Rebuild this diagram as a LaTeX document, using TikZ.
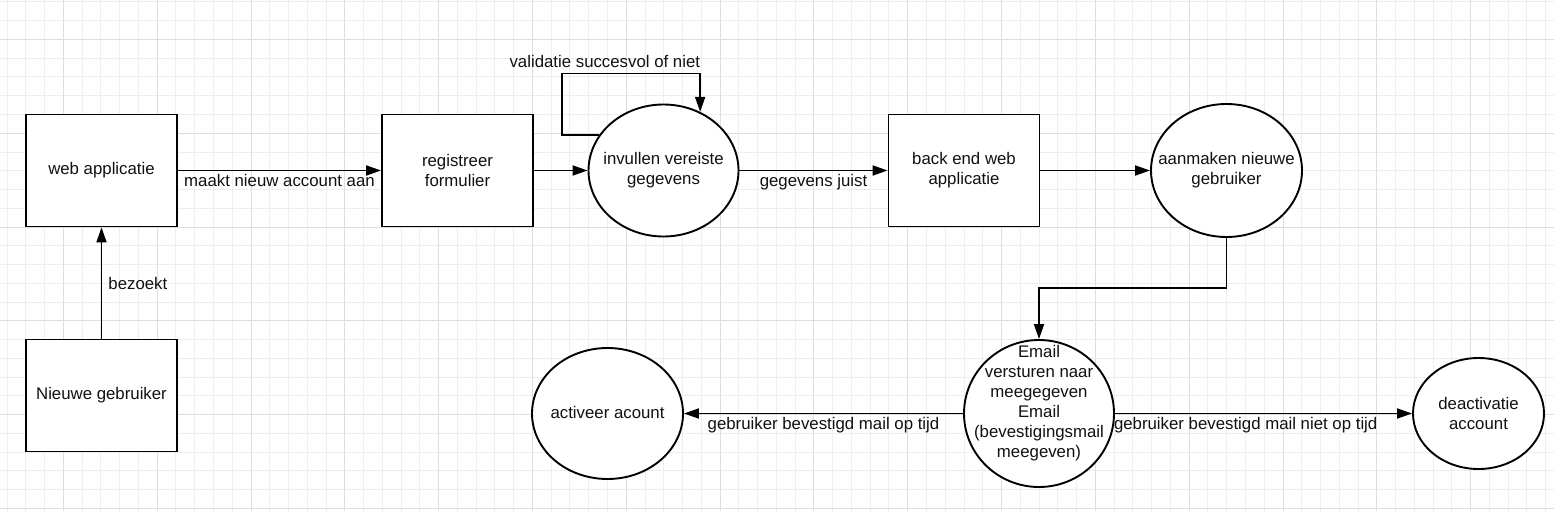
\documentclass[tikz,border=0pt]{standalone}
\usepackage{fontspec}
\setmainfont{Liberation Sans}
\usetikzlibrary{arrows.meta,shapes.geometric,calc}
\definecolor{minorg}{HTML}{EEEEEE}
\definecolor{majorg}{HTML}{DEDEDE}
\definecolor{ink}{HTML}{111111}
\begin{document}
\begin{tikzpicture}[x=1pt,y=-1pt,
  every node/.style={font=\fontsize{16.8}{20}\selectfont, text=ink},
  every label/.style={align=center, inner sep=0pt},
  boxnode/.style={draw=black, fill=white, line width=1.9pt, minimum width=151pt, minimum height=112pt, inner sep=0pt, align=center},
  ellnode/.style={ellipse, draw=black, fill=white, line width=1.9pt, inner sep=0pt},
  conn/.style={draw=black, line width=1.9pt, -{Triangle[length=15pt,width=10pt]}},
  lbl/.style={inner sep=2pt, fill=none}]
\useasboundingbox (0,0) rectangle (1554,511);
\fill[white] (0,0) rectangle (1554,511);
% grid
\foreach \i in {0,...,82}{\draw[minorg, line width=0.8pt] ({7+18.763*\i},0) -- ({7+18.763*\i},511);}
\foreach \j in {0,...,27}{\draw[minorg, line width=0.8pt] (0,{1.8+18.763*\j}) -- (1554,{1.8+18.763*\j});}
\foreach \i in {0,...,15}{\draw[majorg, line width=0.8pt] ({63.3+93.815*\i},0) -- ({63.3+93.815*\i},511);}
\foreach \j in {0,...,5}{\draw[majorg, line width=0.8pt] (0,{39.3+93.815*\j}) -- (1554,{39.3+93.815*\j});}
% nodes
\node[boxnode] (web) at (101.5,170.5) {web applicatie};
\node[boxnode] (nieuw) at (101.5,395.5) {Nieuwe gebruiker};
\node[boxnode] (reg) at (457.5,170.5) {registreer\\formulier};
\node[ellnode, minimum width=150pt, minimum height=132pt, label={center:{invullen vereiste\\gegevens}}] (inv) at (663.5,170.5) {};
\node[boxnode] (back) at (964,170.5) {back end web\\applicatie};
\node[ellnode, minimum width=151pt, minimum height=133pt, label={center:{aanmaken nieuwe\\gebruiker}}] (aan) at (1226.5,170.5) {};
\node[ellnode, minimum width=150pt, minimum height=147pt, label={[yshift=10pt]center:{Email\\versturen naar\\meegegeven\\Email\\(bevestigingsmail\\meegeven)}}] (mail) at (1039,413.5) {};
\node[ellnode, minimum width=151pt, minimum height=131pt, label={[yshift=1.5pt]center:{activeer acount}}] (act) at (607.5,413.5) {};
\node[ellnode, minimum width=131pt, minimum height=111pt, label={center:{deactivatie\\account}}] (deact) at (1478.5,413.5) {};
% connectors
\draw[conn] (nieuw) -- node[right, lbl, xshift=4pt]{bezoekt} (web);
\draw[conn] (web) -- node[below, lbl, yshift=-1pt]{maakt nieuw account aan} (reg);
\draw[conn] (reg) -- (inv);
\coordinate (loopL) at (562,73.5);
\coordinate (loopR) at (inv.58.6 |- loopL);
\draw[conn] (inv.151) -| (loopL) -- node[above, lbl, pos=0.31, yshift=3pt]{validatie succesvol of niet} (loopR) -- (inv.58.6);
\draw[conn] (inv) -- node[below, lbl, yshift=-1pt]{gegevens juist} (back);
\draw[conn] (back) -- (aan);
\draw[conn] (aan.south) -- ++(0,50) -| (mail.north);
\draw[conn] (mail) -- node[below, lbl, yshift=-1pt]{gebruiker bevestigd mail op tijd} (act);
\draw[conn] (mail) -- node[below, lbl, yshift=-1pt, pos=0.44]{gebruiker bevestigd mail niet op tijd} (deact);
\end{tikzpicture}
\end{document}
